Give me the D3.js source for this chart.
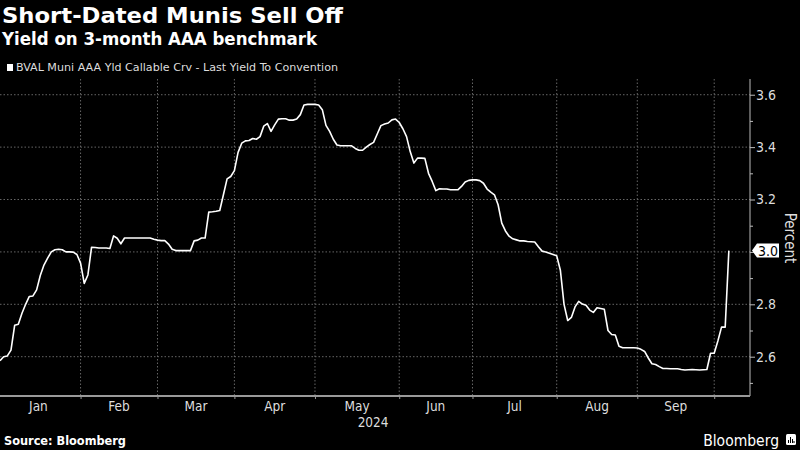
<!DOCTYPE html>
<html>
<head>
<meta charset="utf-8">
<script src="https://cdn.jsdelivr.net/npm/d3@7"></script>
<style>
  body { margin: 0; background: #000; }
  svg { display: block; }
  text { font-family: "DejaVu Sans Condensed", "DejaVu Sans", sans-serif; }
</style>
</head>
<body>
<svg id="chart"></svg>
<script>
var width = 800, height = 450;

// Data: one yield per weekday, starting at startDate.
var startDate = "2024-01-02";
var yields = [
  2.585, 2.60, 2.603, 2.625, 2.72, 2.724, 2.766, 2.80, 2.83, 2.832,
  2.855, 2.91, 2.95, 2.976, 3.0, 3.008, 3.01, 3.008, 3.0, 3.0,
  2.999, 2.99, 2.957, 2.88, 2.912, 3.018, 3.017, 3.015, 3.015, 3.015,
  3.013, 3.061, 3.052, 3.031, 3.053, 3.053, 3.053, 3.053, 3.053, 3.053,
  3.053, 3.053, 3.048, 3.045, 3.043, 3.043, 3.03, 3.01, 3.005, 3.005,
  3.005, 3.005, 3.005, 3.042, 3.045, 3.053, 3.053, 3.152, 3.153, 3.155,
  3.158, 3.218, 3.279, 3.288, 3.31, 3.38, 3.415, 3.424, 3.425, 3.433,
  3.43, 3.44, 3.48, 3.49, 3.46, 3.485, 3.507, 3.508, 3.508, 3.503,
  3.503, 3.507, 3.524, 3.561, 3.563, 3.563, 3.563, 3.561, 3.543, 3.483,
  3.46, 3.43, 3.408, 3.405, 3.405, 3.405, 3.405, 3.395, 3.388, 3.388,
  3.40, 3.41, 3.418, 3.45, 3.482, 3.488, 3.492, 3.504, 3.507, 3.494,
  3.47, 3.44, 3.383, 3.339, 3.358, 3.358, 3.357, 3.30, 3.269, 3.234,
  3.241, 3.24, 3.24, 3.237, 3.237, 3.237, 3.25, 3.267, 3.273, 3.275,
  3.275, 3.272, 3.262, 3.24, 3.228, 3.218, 3.18, 3.11, 3.08, 3.06,
  3.05, 3.046, 3.042, 3.042, 3.04, 3.039, 3.038, 3.02, 3.003, 3.0,
  2.995, 2.99, 2.985, 2.93, 2.80, 2.738, 2.75, 2.79, 2.811, 2.801,
  2.796, 2.778, 2.769, 2.787, 2.784, 2.781, 2.70, 2.685, 2.683, 2.64,
  2.634, 2.634, 2.634, 2.634, 2.633, 2.628, 2.62, 2.595, 2.573, 2.57,
  2.562, 2.555, 2.555, 2.554, 2.554, 2.554, 2.551, 2.549, 2.55, 2.551,
  2.55, 2.549, 2.55, 2.551, 2.613, 2.613, 2.66, 2.713, 2.713, 3.005
];

var monthLabels = ["Jan", "Feb", "Mar", "Apr", "May", "Jun", "Jul", "Aug", "Sep"];
var monthStarts = ["2024-01-01", "2024-02-01", "2024-03-01", "2024-04-01", "2024-05-01",
                   "2024-06-03", "2024-07-01", "2024-08-01", "2024-09-02", "2024-10-01"];
var yMajorTicks = [2.6, 2.8, 3.0, 3.2, 3.4, 3.6];
var yMinorTicks = [2.5, 2.7, 2.9, 3.1, 3.3, 3.5];

var parse = d3.utcParse("%Y-%m-%d");
var origin = parse("2024-01-01");

// The axis runs on trading days: count weekdays since Jan 1.
function bizIndex(date) {
    return d3.utcDay.count(origin, date)
        - d3.utcSaturday.count(origin, date)
        - d3.utcSunday.count(origin, date);
}

var dates = d3.utcDay.range(parse(startDate), parse("2024-12-31"))
    .filter(function (d) { return d.getUTCDay() % 6 !== 0; })
    .slice(0, yields.length);

var data = yields.map(function (v, i) {
    return { date: dates[i], value: v };
});

var last = data[data.length - 1];

var plot = { left: 0, right: 750, top: 79, bottom: 396 };

var x = d3.scaleLinear()
    .domain([1, 205.5])
    .range([plot.left, 749]);

var y = d3.scaleLinear()
    .domain([2.45, 3.66])
    .range([plot.bottom, plot.top]);

var svg = d3.select("#chart")
    .attr("width", width)
    .attr("height", height)
    .style("background", "#000");

// Titles
svg.append("text")
    .attr("x", 2).attr("y", 23)
    .attr("fill", "#fff")
    .attr("font-size", 21.5)
    .attr("font-weight", "bold")
    .attr("font-family", "DejaVu Sans, sans-serif")
    .attr("textLength", 341)
    .attr("lengthAdjust", "spacingAndGlyphs")
    .text("Short-Dated Munis Sell Off");

svg.append("text")
    .attr("x", 2).attr("y", 45)
    .attr("fill", "#fff")
    .attr("font-size", 17)
    .attr("font-weight", "bold")
    .attr("font-family", "DejaVu Sans, sans-serif")
    .attr("textLength", 315)
    .attr("lengthAdjust", "spacingAndGlyphs")
    .text("Yield on 3-month AAA benchmark");

// Legend
svg.append("rect")
    .attr("x", 7).attr("y", 64)
    .attr("width", 6).attr("height", 7)
    .attr("fill", "#fff");

svg.append("text")
    .attr("x", 16).attr("y", 71)
    .attr("fill", "#ddd")
    .attr("font-size", 11)
    .attr("font-family", "DejaVu Sans, sans-serif")
    .attr("textLength", 322)
    .attr("lengthAdjust", "spacingAndGlyphs")
    .text("BVAL Muni AAA Yld Callable Crv - Last Yield To Convention");

// Grid
var monthIdx = monthStarts.map(function (s) { return bizIndex(parse(s)); });

svg.append("g")
    .selectAll("line")
    .data(yMajorTicks)
    .enter()
    .append("line")
    .attr("x1", plot.left).attr("x2", plot.right)
    .attr("y1", function (d) { return y(d); })
    .attr("y2", function (d) { return y(d); })
    .attr("stroke", "#666")
    .attr("stroke-width", 1)
    .attr("stroke-dasharray", "1.5,2");

svg.append("g")
    .selectAll("line")
    .data(monthIdx.slice(1))
    .enter()
    .append("line")
    .attr("x1", function (d) { return x(d); })
    .attr("x2", function (d) { return x(d); })
    .attr("y1", plot.top).attr("y2", plot.bottom)
    .attr("stroke", "#666")
    .attr("stroke-width", 1)
    .attr("stroke-dasharray", "1.5,2");

// Right axis (the tick under the last-value box is left unlabelled)
var fmt = d3.format(".1f");
var yAxisMajor = d3.axisRight(y)
    .tickValues(yMajorTicks)
    .tickSize(5)
    .tickFormat(function (d) { return fmt(d) === fmt(last.value) ? "" : fmt(d); });

var yAxisMinor = d3.axisRight(y)
    .tickValues(yMinorTicks)
    .tickSize(3)
    .tickFormat("");

var gy = svg.append("g")
    .attr("transform", "translate(" + plot.right + ",0)")
    .call(yAxisMajor);
svg.append("g")
    .attr("transform", "translate(" + plot.right + ",0)")
    .call(yAxisMinor)
    .select(".domain").remove();

gy.select(".domain")
    .attr("d", "M0," + plot.top + "V" + plot.bottom)
    .attr("stroke", "#bbb");
svg.selectAll(".tick line").attr("stroke", "#bbb");
gy.selectAll(".tick text")
    .attr("x", 6)
    .attr("fill", "#ddd")
    .attr("font-size", 14)
    .attr("font-family", "DejaVu Sans Condensed, DejaVu Sans, sans-serif");

svg.append("text")
    .attr("transform", "translate(785,238) rotate(90)")
    .attr("text-anchor", "middle")
    .attr("fill", "#ddd")
    .attr("font-size", 15)
    .text("Percent");

// Bottom axis
var xAxis = d3.axisBottom(x)
    .tickValues(monthIdx.slice(1))
    .tickSize(3)
    .tickSizeOuter(0)
    .tickFormat("");

var gx = svg.append("g")
    .attr("transform", "translate(0," + plot.bottom + ")")
    .call(xAxis);
gx.select(".domain")
    .attr("d", "M" + plot.left + ",0H" + plot.right)
    .attr("stroke", "#999")
    .attr("stroke-width", 2);
gx.selectAll(".tick line").attr("stroke", "#999");

svg.append("g")
    .selectAll("text")
    .data(monthLabels)
    .enter()
    .append("text")
    .attr("x", function (d, i) { return x((monthIdx[i] + monthIdx[i + 1]) / 2); })
    .attr("y", 411)
    .attr("text-anchor", "middle")
    .attr("fill", "#ddd")
    .attr("font-size", 13.5)
    .attr("font-family", "DejaVu Sans, sans-serif")
    .text(function (d) { return d; });

svg.append("text")
    .attr("x", x((monthIdx[4] + monthIdx[5]) / 2) + 16)
    .attr("y", 427)
    .attr("text-anchor", "middle")
    .attr("fill", "#ddd")
    .attr("font-size", 13.5)
    .attr("font-family", "DejaVu Sans, sans-serif")
    .text("2024");

// Line
var line = d3.line()
    .x(function (d) { return x(bizIndex(d.date)); })
    .y(function (d) { return y(d.value); });

svg.append("path")
    .datum(data)
    .attr("fill", "none")
    .attr("stroke", "#fff")
    .attr("stroke-width", 1.6)
    .attr("stroke-linejoin", "round")
    .attr("d", line);

// Last value label
var ly = y(last.value);
var lx = plot.right + 2;
svg.append("path")
    .attr("d", "M" + lx + "," + ly + "L" + (lx + 5) + "," + (ly - 7) + "H" + (lx + 27) +
        "V" + (ly + 7) + "H" + (lx + 5) + "Z")
    .attr("fill", "#fff");
svg.append("text")
    .attr("x", lx + 16)
    .attr("y", ly + 5)
    .attr("text-anchor", "middle")
    .attr("fill", "#000")
    .attr("font-size", 14)
    .text(fmt(last.value));

// Footer
svg.append("text")
    .attr("x", 4).attr("y", 445)
    .attr("fill", "#fff")
    .attr("font-size", 12.5)
    .attr("font-weight", "bold")
    .attr("textLength", 122)
    .attr("lengthAdjust", "spacingAndGlyphs")
    .text("Source: Bloomberg");

svg.append("text")
    .attr("x", 779).attr("y", 445.5)
    .attr("text-anchor", "end")
    .attr("fill", "#fff")
    .attr("font-size", 15.5)
    .attr("font-family", "DejaVu Sans Condensed, DejaVu Sans, sans-serif")
    .text("Bloomberg");

var logo = svg.append("g").attr("transform", "translate(786,434)");
logo.append("rect")
    .attr("width", 10).attr("height", 11).attr("rx", 1.5)
    .attr("fill", "#fff");
logo.selectAll("line.bar")
    .data([[2.5, 6], [4.5, 3], [6.5, 5], [8, 7]])
    .enter()
    .append("line")
    .attr("x1", function (d) { return d[0]; })
    .attr("x2", function (d) { return d[0]; })
    .attr("y1", 9)
    .attr("y2", function (d) { return d[1]; })
    .attr("stroke", "#000")
    .attr("stroke-width", 1);
</script>
</body>
</html>
